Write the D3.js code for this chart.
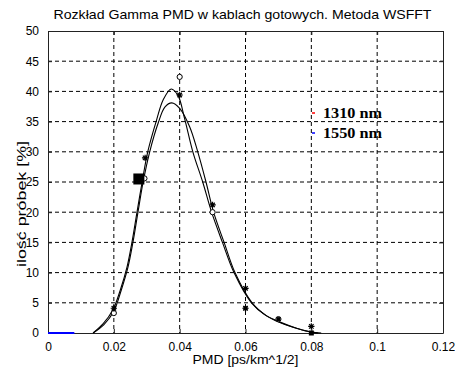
<!DOCTYPE html>
<meta charset="utf-8">
<script src="https://d3js.org/d3.v7.min.js"></script>
<style>
  body { margin: 0; background: #fff; }
</style>
<div id="chart"></div>
<script>

// data
var xTicks = [0, 0.02, 0.04, 0.06, 0.08, 0.1, 0.12];
var yTicks = [0, 5, 10, 15, 20, 25, 30, 35, 40, 45, 50];

// fitted gamma curves
var curve1310 = [[0.0137,0],[0.0167,1.5],[0.0197,3.8],[0.0219,7],[0.024,10.9],[0.0255,15],[0.027,19.9],
  [0.0286,25],[0.0303,30],[0.033,35.3],[0.035,38.6],[0.0374,40.4],[0.0395,39.3],[0.0415,35.5],[0.044,30],
  [0.047,25],[0.0497,20],[0.053,15],[0.0565,10],[0.0618,5],[0.066,3],[0.0705,1.8],[0.0755,0.8],[0.0795,0.2],[0.082,0]];
var curve1550 = [[0.0137,0],[0.017,1.4],[0.020,3.6],[0.0222,7],[0.0243,10.9],[0.0258,15],[0.0273,19.9],
  [0.0289,25],[0.0309,30],[0.0335,34.8],[0.0355,37.4],[0.0376,38.1],[0.040,37.2],[0.043,34.2],[0.0455,30],
  [0.048,25],[0.0503,20],[0.0535,15],[0.0568,10],[0.062,5],[0.0665,2.8],[0.071,1.6],[0.076,0.7],[0.080,0.15],[0.083,0]];

// measured points
var pointsO = [[0.02,3.3],[0.0293,25.6],[0.04,42.4],[0.05,20],[0.07,2.3]];
var pointsStar = [[0.02,4.1],[0.0295,29],[0.04,39.4],[0.05,21.2],[0.06,7.4],[0.06,4.1],[0.08,1.1]];
var pointsFilled = [[0.0276,25.5,11],[0.06,4.1,4],[0.07,2.3,4],[0.08,0,5]];
var blueLine = [[0,0],[0.008,0]];

var legendNames = ["1310 nm", "1550 nm"];
var legendColors = ["#ff0000", "#0000ff"];

var sans = "'Liberation Sans', Arial, sans-serif";
var serif = "'Liberation Serif', 'Times New Roman', serif";

var margin = {top: 31, right: 12, bottom: 38, left: 48},
    width = 455 - margin.left - margin.right,
    height = 371 - margin.top - margin.bottom;

var svg = d3.select("#chart")
  .append("svg")
    .attr("width", 455)
    .attr("height", 371)
  .append("g")
    .attr("transform", "translate(" + margin.left + "," + margin.top + ")");

var x = d3.scaleLinear().domain([0, 0.12]).range([0, width]);
var y = d3.scaleLinear().domain([0, 50]).range([height, 0]);

// grid
svg.append("g").selectAll("line")
  .data(xTicks.slice(1, -1))
  .enter().append("line")
    .attr("x1", function(d) { return x(d); }).attr("x2", function(d) { return x(d); })
    .attr("y1", 0).attr("y2", height)
    .attr("stroke", "#000").attr("stroke-dasharray", "4,3");
svg.append("g").selectAll("line")
  .data(yTicks.slice(1, -1))
  .enter().append("line")
    .attr("y1", function(d) { return y(d); }).attr("y2", function(d) { return y(d); })
    .attr("x1", 0).attr("x2", width)
    .attr("stroke", "#000").attr("stroke-dasharray", "4,3");

// axes, matlab style ticks pointing inward
var fmt = function(d) { return d === 0 ? "0" : String(+d.toFixed(2)); };
svg.append("g")
  .attr("transform", "translate(0," + height + ")")
  .call(d3.axisBottom(x).tickValues(xTicks).tickFormat(fmt).tickSizeInner(-4).tickSizeOuter(0).tickPadding(9));
svg.append("g")
  .call(d3.axisLeft(y).tickValues(yTicks).tickSizeInner(-4).tickSizeOuter(0).tickPadding(9));
svg.append("g")
  .call(d3.axisTop(x).tickValues(xTicks).tickFormat("").tickSizeInner(-4).tickSizeOuter(0));
svg.append("g")
  .attr("transform", "translate(" + width + ",0)")
  .call(d3.axisRight(y).tickValues(yTicks).tickFormat("").tickSizeInner(-4).tickSizeOuter(0));
svg.selectAll(".domain, .tick line").attr("stroke", "#222");
svg.selectAll(".tick text").style("font-size", "12px").attr("fill", "#000")
  .style("font-family", sans);

// curves
var line = d3.line()
  .x(function(d) { return x(d[0]); })
  .y(function(d) { return y(d[1]); })
  .curve(d3.curveCatmullRom);

svg.append("path").datum(curve1550).attr("d", line)
  .attr("fill", "none").attr("stroke", "#000").attr("stroke-width", 1.1);
svg.append("path").datum(curve1310).attr("d", line)
  .attr("fill", "none").attr("stroke", "#000").attr("stroke-width", 1.1);

svg.append("path").datum(blueLine).attr("d", d3.line().x(function(d) { return x(d[0]); }).y(function(d) { return y(d[1]); }))
  .attr("stroke", "#0000ff").attr("stroke-width", 2);

// markers
var asterisk = {
  draw: function(context, size) {
    var r = Math.sqrt(size) / 2, k = r * 0.707;
    context.moveTo(-r, 0); context.lineTo(r, 0);
    context.moveTo(0, -r); context.lineTo(0, r);
    context.moveTo(-k, -k); context.lineTo(k, k);
    context.moveTo(-k, k); context.lineTo(k, -k);
  }
};

svg.selectAll(".ptO")
  .data(pointsO)
  .enter().append("circle")
    .attr("class", "ptO")
    .attr("cx", function(d) { return x(d[0]); })
    .attr("cy", function(d) { return y(d[1]); })
    .attr("r", 2.6)
    .attr("fill", "#fff").attr("stroke", "#000");

svg.selectAll(".ptS")
  .data(pointsStar)
  .enter().append("path")
    .attr("class", "ptS")
    .attr("transform", function(d) { return "translate(" + x(d[0]) + "," + y(d[1]) + ")"; })
    .attr("d", d3.symbol().type(asterisk).size(40))
    .attr("stroke", "#000").attr("stroke-width", 1.2).attr("fill", "none");

svg.selectAll(".ptF")
  .data(pointsFilled)
  .enter().append("rect")
    .attr("class", "ptF")
    .attr("x", function(d) { return x(d[0]) - d[2] / 2; })
    .attr("y", function(d) { return y(d[1]) - d[2] / 2; })
    .attr("width", function(d) { return d[2]; })
    .attr("height", function(d) { return d[2]; })
    .attr("fill", "#000");

// legend
var legend = svg.selectAll(".legend")
  .data(legendNames)
  .enter().append("g")
    .attr("transform", function(d, i) { return "translate(264," + (82 + i * 20) + ")"; });
legend.append("line")
  .attr("x1", 0).attr("x2", 3)
  .attr("stroke", function(d, i) { return legendColors[i]; })
  .attr("stroke-width", 1.5);
legend.append("text")
  .attr("x", 11).attr("y", 5)
  .style("font-family", serif)
  .style("font-weight", "bold")
  .style("font-size", "15px")
  .attr("textLength", 59)
  .attr("lengthAdjust", "spacingAndGlyphs")
  .text(function(d) { return d; });

// titles
svg.append("text")
  .attr("x", width / 2 - 3).attr("y", -12)
  .attr("text-anchor", "middle")
  .style("font-family", sans)
  .style("font-size", "13px")
  .attr("textLength", 378)
  .attr("lengthAdjust", "spacingAndGlyphs")
  .text("Rozkład Gamma  PMD w kablach gotowych. Metoda WSFFT");

svg.append("text")
  .attr("x", x(0.06)).attr("y", height + 31)
  .attr("text-anchor", "middle")
  .style("font-family", sans)
  .style("font-size", "13px")
  .attr("textLength", 106)
  .attr("lengthAdjust", "spacingAndGlyphs")
  .text("PMD [ps/km^1/2]");

svg.append("text")
  .attr("transform", "translate(-22," + (height / 2 + 22) + ") rotate(-90)")
  .attr("text-anchor", "middle")
  .style("font-family", sans)
  .style("font-size", "13px")
  .attr("textLength", 126)
  .attr("lengthAdjust", "spacingAndGlyphs")
  .text("ilość próbek [%]");

</script>
